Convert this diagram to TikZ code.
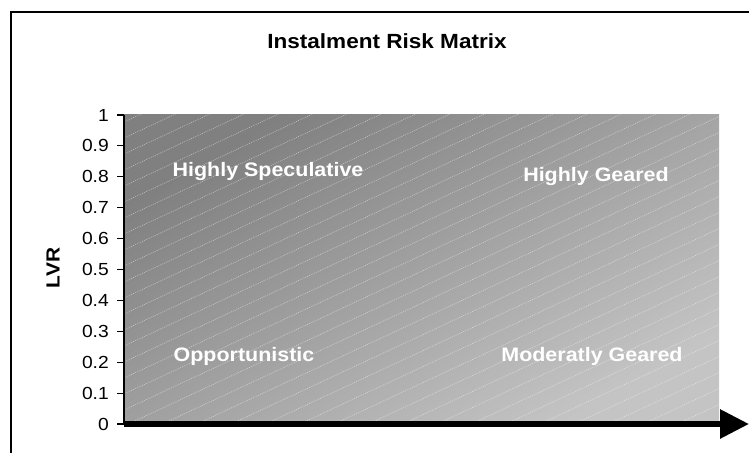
\documentclass[tikz,border=0pt]{standalone}
\usepackage{fontspec}
\setmainfont{Liberation Sans}[FakeStretch=1.1]
\usetikzlibrary{arrows.meta}
\begin{document}
\begin{tikzpicture}[x=1pt,y=1pt,
  ticklabel/.style={anchor=east,inner sep=0pt,font=\fontsize{17.5}{19}\selectfont},
  quadlabel/.style={anchor=base,inner sep=0pt,text=white,font=\bfseries\fontsize{19.5}{21}\selectfont},
  hatchline/.style={white,opacity=0.55,line width=0.5pt,dash pattern=on 1pt off 1pt}]
\useasboundingbox (0,0) rectangle (749,453);
\draw[line width=1.2pt] (11,0) -- (11,441) -- (749,441);
\shade[top color=black!50, bottom color=black!23, shading angle=30] (124,29) rectangle (719,338);
\begin{scope}
\clip (124,29) rectangle (719,338);
\foreach \k in {0,...,37} \draw[hatchline] (124,{-261+16*\k}) -- ++(25:700);
\end{scope}
\coordinate (origin) at (124,29);
\coordinate (ytop) at (124,338);
\coordinate (xend) at (749,29);
\draw[line width=1.2pt] (origin) -- (ytop);
\foreach \lab [count=\i from 0] in {0,0.1,0.2,0.3,0.4,0.5,0.6,0.7,0.8,0.9,1} {
  \draw[line width=1.2pt] (117,{29+30.9*\i}) -- (124,{29+30.9*\i});
  \node[ticklabel] (tick\i) at (109,{29+30.9*\i}) {\lab};
}
\draw[line width=6pt,-{Triangle[length=29pt,width=28pt]}] (origin) -- (xend);
\node[font=\bfseries\fontsize{20.5}{23}\selectfont] (title) at (387,411.5) {Instalment Risk Matrix};
\node[rotate=90,font=\bfseries\fontsize{19}{21}\selectfont] (lvr) at (53,185) {LVR};
\node[quadlabel] (specul) at (268,276) {Highly Speculative};
\node[quadlabel] (hgeared) at (596,271) {Highly Geared};
\node[quadlabel] (opport) at (244,92) {Opportunistic};
\node[quadlabel] (mgeared) at (592,92) {Moderatly Geared};
\end{tikzpicture}
\end{document}
